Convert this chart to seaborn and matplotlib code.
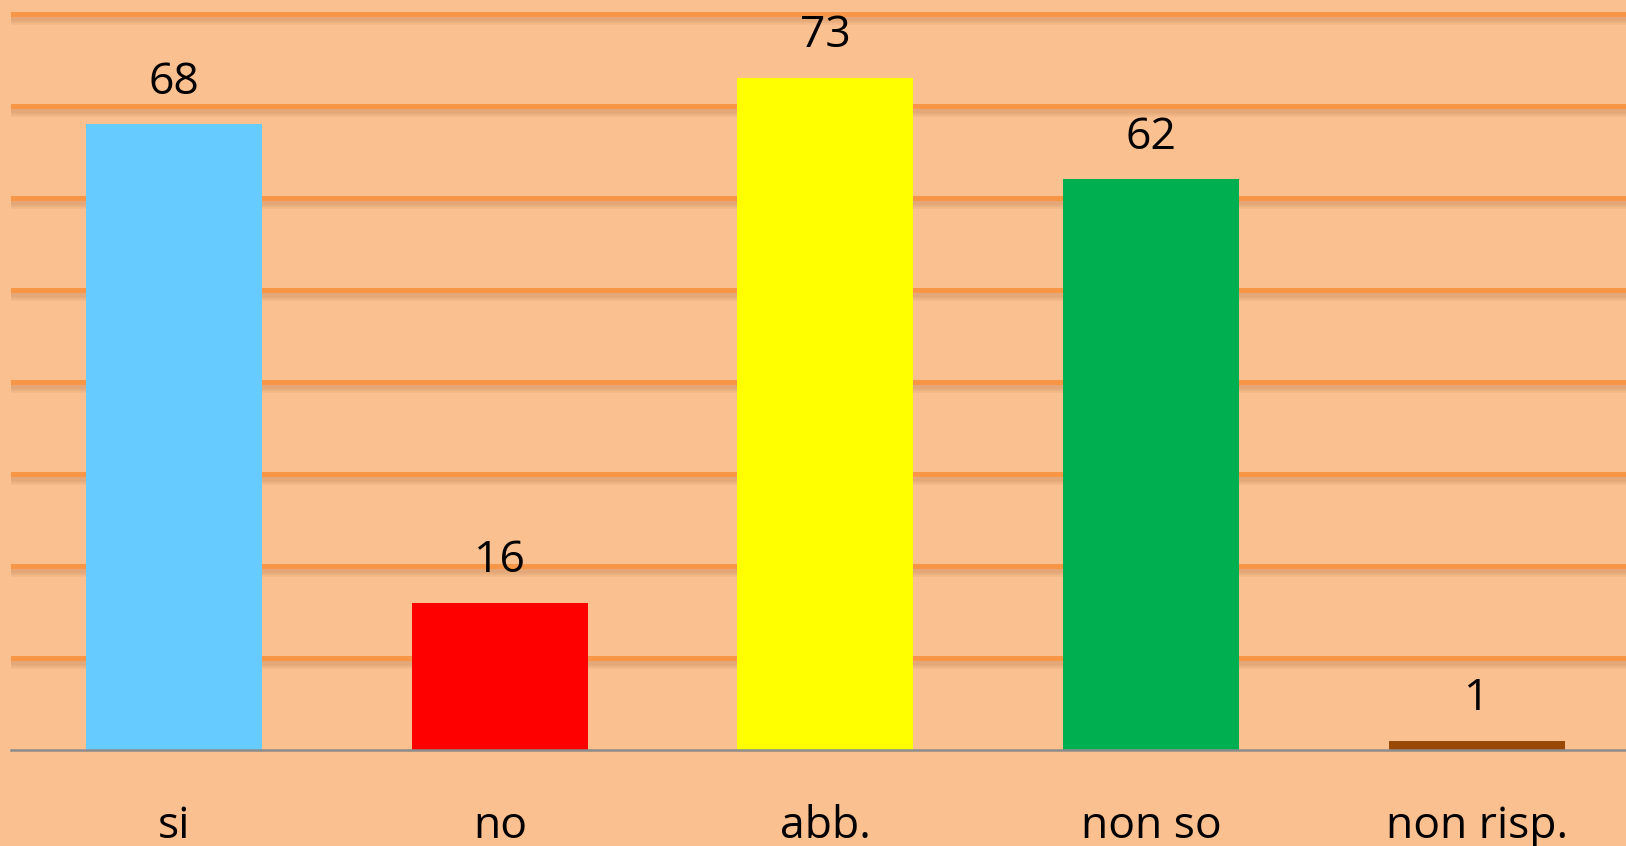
"""
Risposte al questionario - grafico a barre
"""

import matplotlib
matplotlib.use("Agg")
import matplotlib.pyplot as plt
import matplotlib.patheffects as pe
import pandas as pd
import seaborn as sns

categories = ["si", "no", "abb.", "non so", "non risp."]
values = [68, 16, 73, 62, 1]
colors = ["#66CCFF", "#FF0000", "#FFFF00", "#00B050", "#984807"]

df = pd.DataFrame({"risposta": categories, "conteggio": values})

sns.set_style("white")
plt.rcParams["font.family"] = ["Open Sans", "DejaVu Sans"]
plt.rcParams["text.color"] = "black"
plt.rcParams["xtick.color"] = "black"

bg = "#FAC090"
fig = plt.figure(figsize=(16.26, 8.46), dpi=100, facecolor=bg)
ax = fig.add_axes([11.4 / 1626, 1 - 750 / 846, 1628 / 1626, (750 - 13.5) / 846 * 81.4 / 80])
ax.set_facecolor(bg)

sns.barplot(data=df, x="risposta", y="conteggio", hue="risposta",
            palette=colors, width=0.54, saturation=1, legend=False,
            linewidth=0, ax=ax)

ax.set_xlim(-0.5, 4.5)
ax.set_ylim(0, 81.4)
ax.set_yticks(range(10, 81, 10))
ax.tick_params(axis="y", left=False, labelleft=False)
ax.tick_params(axis="x", bottom=False, labelsize=32, labelcolor="black", pad=36)
ax.set_xlabel("")
ax.set_ylabel("")

ax.grid(axis="y", color="#F79646", linewidth=3.6)
shadow = [pe.SimpleLineShadow(offset=(0, -dy), shadow_color="#8B4513", alpha=0.07, linewidth=4)
          for dy in (1.5, 3, 4.5, 6)]
for line in ax.get_ygridlines():
    line.set_path_effects(shadow + [pe.Normal()])
ax.set_axisbelow(True)

for side in ["top", "right", "left"]:
    ax.spines[side].set_visible(False)
ax.spines["bottom"].set_color("#8C8C8C")
ax.spines["bottom"].set_linewidth(1.8)
ax.spines["bottom"].set_zorder(5)

for c in ax.containers:
    ax.bar_label(c, fontsize=32, padding=14, color="black")

fig.savefig("out.png", dpi=100, facecolor=bg)
